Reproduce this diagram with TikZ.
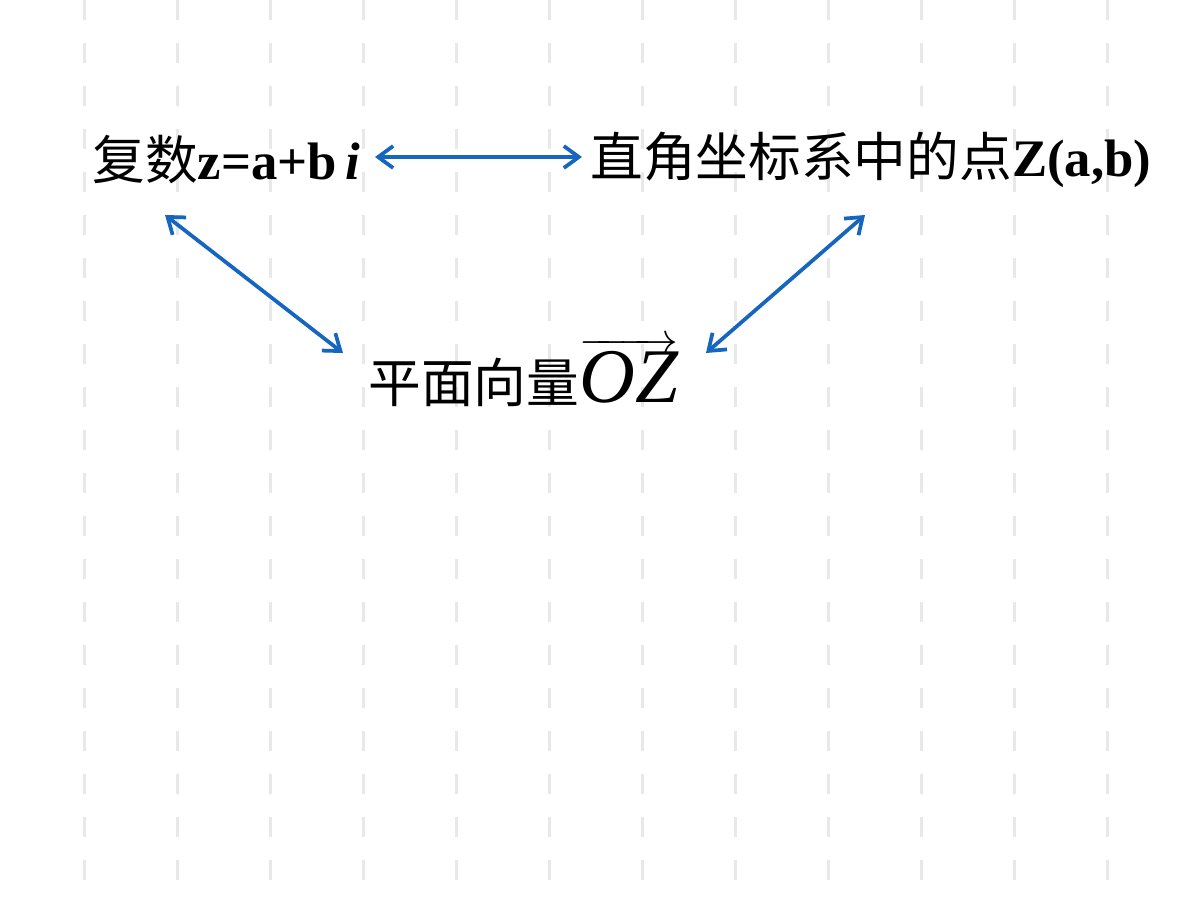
\documentclass[tikz,border=0pt]{standalone}
\usepackage{fontspec}
\setmainfont{Liberation Serif}
\newfontfamily\cjk{Noto Sans CJK SC}
\usetikzlibrary{arrows.meta, positioning}
\definecolor{linkblue}{RGB}{22,102,192}
\tikzset{
	% background dashes
	gridline/.style={
		gray!18,
		line width=3*0.02cm,
		dash pattern=on 0.4cm off 0.46cm
	}, %
	% two-way link
	link/.style={
		linkblue,
		line width=0.075cm,
		{Straight Barb[length=0.3cm,width=0.44cm]}-{Straight Barb[length=0.3cm,width=0.44cm]}
	}, %
	label/.style={
		inner sep=0pt,
		font=\fontsize{30}{32}\selectfont
	}
}

\begin{document}
\begin{tikzpicture}[x=0.02cm, y=-0.02cm]
			\useasboundingbox (0,0) rectangle (1200,900);
			%% background
			\foreach \i in {0, ..., 11} {
				\draw [gridline] (84+93*\i, 0) -- (84+93*\i, 900);
			}
			
			%% the three forms
			\node [label, anchor=west] (cplx) at (92, 160) {{\cjk 复数}\textbf{z=a+b\,\textit{i}}};
			\node [label, anchor=west] (point) at (590, 160) {{\cjk 直角坐标系中的点}\textbf{Z(a,b)}};
			\node [label, anchor=west] (vec) at (368, 372) {{\cjk 平面向量}{\fontsize{44}{48}\selectfont$\overrightarrow{\mbox{\itshape OZ}}$}};
			
			\coordinate (cplx r) at (375, 157);
			\coordinate (point l) at (582, 157);
			\coordinate (cplx b) at (165, 215);
			\coordinate (vec l) at (343, 353);
			\coordinate (point b) at (865, 215);
			\coordinate (vec r) at (706, 353);
			
			%% links
			\draw [link] (cplx r) -- (point l);
			\draw [link] (cplx b) -- (vec l);
			\draw [link] (point b) -- (vec r);
		\end{tikzpicture}
\end{document}
